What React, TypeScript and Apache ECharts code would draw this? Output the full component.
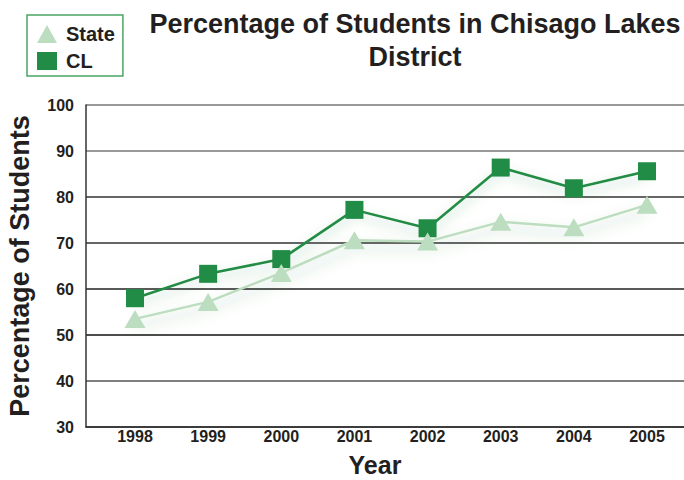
import React, { useEffect, useRef } from "react";
import * as echarts from "echarts";

const years = [1998, 1999, 2000, 2001, 2002, 2003, 2004, 2005];
const stateValues = [53.5, 57.2, 63.5, 70.6, 70.3, 74.6, 73.4, 78.3];
const clValues = [58.0, 63.3, 66.5, 77.2, 73.2, 86.4, 81.9, 85.6];
const yTicks = [30, 40, 50, 60, 70, 80, 90, 100];
const gridColors = ["#222222", "#555555", "#111111", "#222222", "#333333", "#333333", "#777777", "#777777"];

const CL_COLOR = "#218C45";
const STATE_COLOR = "#BCDDBF";
const FONT = "Liberation Sans, Arial, sans-serif";

export default function App() {
  const ref = useRef<HTMLDivElement>(null);
  useEffect(() => {
    if (!ref.current) return;
    const chart = echarts.init(ref.current, null, { renderer: "svg" });
    chart.setOption({
      animation: false,
      backgroundColor: "#ffffff",
      textStyle: { fontFamily: FONT },
      title: {
        text: "Percentage of Students in Chisago Lakes\nDistrict",
        left: 415,
        top: 7,
        padding: 0,
        textAlign: "center",
        textStyle: { fontFamily: FONT, fontSize: 27, fontWeight: "bold", color: "#231f20", lineHeight: 33 },
      },
      legend: {
        orient: "vertical",
        left: 27,
        top: 15,
        padding: [9, 8, 5, 10],
        borderColor: "#4aa564",
        borderWidth: 1.5,
        itemWidth: 20,
        itemHeight: 18,
        itemGap: 7,
        textStyle: { fontFamily: FONT, fontSize: 20, fontWeight: "bold", color: "#231f20", padding: [0, 0, 0, 4] },
        data: [
          { name: "State", icon: "triangle" },
          { name: "CL", icon: "rect" },
        ],
      },
      grid: { left: 86, right: 0, top: 105, bottom: 53, outerBoundsMode: "none" },
      xAxis: {
        type: "value",
        min: 1997.33,
        max: 2005.506,
        name: "Year",
        nameLocation: "middle",
        nameGap: 25,
        nameTextStyle: {
          fontFamily: FONT,
          fontSize: 25,
          lineHeight: 26,
          fontWeight: "bold",
          color: "#231f20",
          padding: [0, 20, 0, 0],
        },
        axisLine: { show: true, lineStyle: { color: "#333333", width: 1.5 } },
        axisTick: { show: false },
        splitLine: { show: false },
        axisLabel: {
          customValues: years,
          formatter: (v: number) => String(Math.round(v)),
          fontFamily: FONT,
          fontSize: 16,
          fontWeight: "bold",
          color: "#231f20",
          margin: 1,
        },
      },
      yAxis: {
        type: "value",
        min: yTicks[0],
        max: yTicks[yTicks.length - 1],
        interval: 10,
        name: "Percentage of Students",
        nameLocation: "middle",
        nameRotate: 90,
        nameGap: 53,
        nameTextStyle: { fontFamily: FONT, fontSize: 27, fontWeight: "bold", color: "#231f20" },
        axisLine: { show: true, lineStyle: { color: "#333333", width: 1.5 } },
        axisTick: { show: false },
        axisLabel: { fontFamily: FONT, fontSize: 16, fontWeight: "bold", color: "#231f20", margin: 12 },
        splitLine: { show: true, lineStyle: { color: gridColors, width: 1.5 } },
      },
      series: [
        {
          name: "CL",
          type: "line",
          data: years.map((y, i) => [y, clValues[i]]),
          symbol: "rect",
          symbolSize: 18,
          itemStyle: { color: CL_COLOR },
          lineStyle: {
            color: CL_COLOR,
            width: 2.5,
            shadowColor: "rgba(40,120,60,0.35)",
            shadowBlur: 12,
            shadowOffsetY: 5,
          },
          z: 3,
        },
        {
          name: "State",
          type: "line",
          data: years.map((y, i) => [y, stateValues[i]]),
          symbol: "triangle",
          symbolSize: [21, 18],
          itemStyle: { color: STATE_COLOR },
          lineStyle: {
            color: STATE_COLOR,
            width: 2.5,
            shadowColor: "rgba(40,120,60,0.35)",
            shadowBlur: 14,
            shadowOffsetY: 7,
          },
          z: 4,
        },
      ],
    });
    return () => chart.dispose();
  }, []);
  return (
    <div
      ref={ref}
      style={{ position: "fixed", left: 0, top: 0, width: 684, height: 480 }}
    />
  );
}
